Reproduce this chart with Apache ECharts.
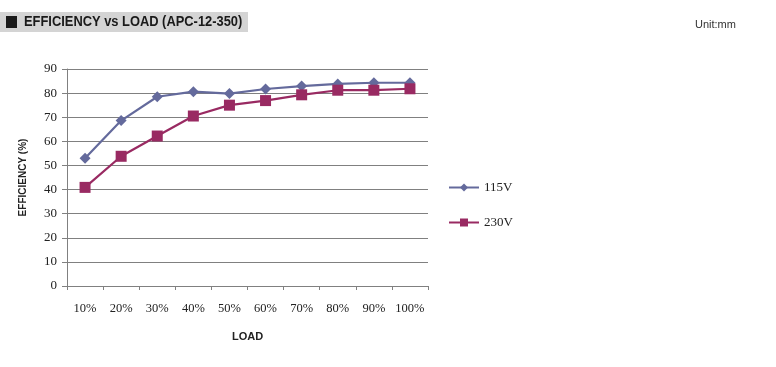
<!DOCTYPE html>
<html><head><meta charset="utf-8">
<script src="https://cdn.jsdelivr.net/npm/echarts@6/dist/echarts.min.js"></script>
<style>html,body{margin:0;padding:0;background:#fff}#c{width:776px;height:367px}</style>
</head><body><div id="c"></div>
<script>
const categories = ['10%','20%','30%','40%','50%','60%','70%','80%','90%','100%'];
const v115 = [53.0, 68.6, 78.5, 80.6, 79.8, 81.7, 82.9, 83.8, 84.3, 84.3];
const v230 = [40.9, 53.8, 62.2, 70.5, 75.0, 76.9, 79.3, 81.2, 81.2, 81.8];
const yTicks = [0, 90, 10];

const chart = echarts.init(document.getElementById('c'), null, {renderer: 'canvas'});
chart.setOption({
  animation: false,
  backgroundColor: '#fff',
  graphic: [
    {type: 'rect', shape: {x: 0, y: 12, width: 248, height: 20}, style: {fill: '#d4d4d4'}},
    {type: 'rect', shape: {x: 6, y: 16, width: 11, height: 12}, style: {fill: '#1a1a1a'}},
    {type: 'text', x: 24, y: 15, scaleX: 0.92, style: {text: 'EFFICIENCY vs LOAD (APC-12-350)', font: 'bold 14px "Liberation Sans", Arial, sans-serif', fill: '#1a1a1a'}},
    {type: 'text', left: 695, top: 19, style: {text: 'Unit:mm', font: '11px "Liberation Sans", Arial, sans-serif', fill: '#333'}}
  ],
  legend: {
    orient: 'vertical', left: 443, top: 176, itemGap: 22, itemWidth: 30, itemHeight: 10,
    textStyle: {fontFamily: '"Liberation Serif", "Times New Roman", serif', fontSize: 13, color: '#222'},
    data: ['115V', '230V']
  },
  grid: {left: 67, right: 348, top: 69, bottom: 81},
  xAxis: {
    type: 'category', data: categories, boundaryGap: true,
    name: 'LOAD', nameLocation: 'middle', nameGap: 45,
    nameTextStyle: {fontFamily: '"Liberation Sans", Arial, sans-serif', fontWeight: 'bold', fontSize: 11, color: '#222'},
    axisLine: {lineStyle: {color: '#808080', width: 1}},
    axisTick: {show: true, length: 4, interval: 0, alignWithLabel: false, lineStyle: {color: '#808080'}},
    axisLabel: {interval: 0, margin: 16, fontFamily: '"Liberation Serif", "Times New Roman", serif', fontSize: 12.5, color: '#222'}
  },
  yAxis: {
    type: 'value', min: yTicks[0], max: yTicks[1], interval: yTicks[2],
    name: 'EFFICIENCY (%)', nameLocation: 'middle', nameGap: 39, nameRotate: 90,
    nameTextStyle: {fontFamily: '"Liberation Sans", Arial, sans-serif', fontWeight: 'bold', fontSize: 10, color: '#222'},
    axisLine: {show: true, lineStyle: {color: '#808080', width: 1}},
    axisTick: {show: true, length: 5, lineStyle: {color: '#808080'}},
    axisLabel: {margin: 10, fontFamily: '"Liberation Serif", "Times New Roman", serif', fontSize: 13, color: '#222'},
    splitLine: {lineStyle: {color: '#808080', width: 1}}
  },
  series: [
    {name: '115V', type: 'line', data: v115, symbol: 'diamond', symbolSize: 11,
     itemStyle: {color: '#646a9c'}, lineStyle: {color: '#646a9c', width: 2.2}},
    {name: '230V', type: 'line', data: v230, symbol: 'rect', symbolSize: 11,
     itemStyle: {color: '#992a62'}, lineStyle: {color: '#992a62', width: 2.2}}
  ]
});
</script>
</body></html>
